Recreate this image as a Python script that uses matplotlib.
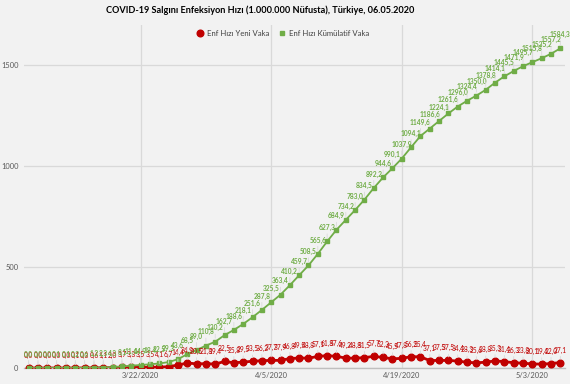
import numpy as np
import pandas as pd
import matplotlib
matplotlib.use("Agg")
import matplotlib.pyplot as plt

# ----------------------------
# 数据 (1.000.000 nüfusta)
# ----------------------------
dates = pd.date_range("2020-03-10", "2020-05-06", freq="D")

kumulatif = [0.0, 0.0, 0.0, 0.1, 0.1, 0.2, 0.6, 1.2, 2.3, 4.3, 8.1, 11.4,
             14.9, 18.4, 22.5, 29.3, 43.6, 68.5, 89.0, 110.8, 130.2, 162.7,
             188.6, 218.1, 251.6, 287.8, 325.5, 363.4, 410.2, 459.7, 508.5,
             565.6, 627.3, 684.9, 734.2, 783.0, 834.5, 892.2, 944.6, 990.1,
             1037.9, 1094.1, 1149.6, 1186.6, 1224.1, 1261.6, 1296.0, 1324.4,
             1350.0, 1378.8, 1414.1, 1445.5, 1471.9, 1495.7, 1515.8, 1535.2,
             1557.2, 1584.3]

yeni = [0.0, 0.0, 0.0, 0.0, 0.0, 0.1, 0.3, 0.6, 1.1, 2.0, 3.7, 3.3,
        3.5, 3.5, 4.1, 6.7, 14.4, 24.9, 20.5, 21.8, 19.4, 32.5,
        25.8, 29.5, 33.5, 36.2, 37.7, 37.9, 46.8, 49.5, 48.8,
        57.1, 61.8, 57.6, 49.2, 48.8, 51.5, 57.7, 52.3, 45.5,
        47.8, 56.2, 55.4, 37.1, 37.5, 37.5, 34.4, 28.3, 25.6,
        28.8, 35.3, 31.4, 26.3, 23.8, 20.1, 19.4, 22.0, 27.1]

tick_dates = pd.to_datetime(["2020-03-22", "2020-04-05", "2020-04-19", "2020-05-03"])
y_ticks = [0, 500, 1000, 1500]

title = "COVID-19 Salgını Enfeksiyon Hızı (1.000.000 Nüfusta), Türkiye, 06.05.2020"

red = "#C00000"
green = "#70AD47"
bg = "#F2F2F2"

plt.rcParams['font.family'] = ['Lato', 'DejaVu Sans']

fig = plt.figure(figsize=(5.7, 3.84), dpi=100, facecolor=bg)
ax = fig.add_axes([24/570, 16/384, (565-24)/570, (368-25)/384])
ax.set_facecolor(bg)


def fmt(v):
    return f"{v:.1f}".replace(".", ",")


ax.plot(dates, yeni, color=red, lw=2, marker="o", ms=4.8, zorder=3,
        label="Enf Hızı Yeni Vaka")
ax.plot(dates, kumulatif, color=green, lw=1.3, marker="s", ms=3.3, zorder=4,
        label="Enf Hızı Kümülatif Vaka")

# etiketler + ince bağlantı çizgileri
leader = dict(arrowstyle="-", color="#DADADA", lw=0.6, shrinkA=0, shrinkB=2.5)
for d, v in zip(dates, yeni):
    ax.annotate(fmt(v), (d, v), xytext=(0, 9), textcoords="offset points",
                ha="center", va="center", fontsize=4.8, color=red, zorder=5,
                arrowprops=leader)
for d, v in zip(dates, kumulatif):
    ax.annotate(fmt(v), (d, v), xytext=(0, 10), textcoords="offset points",
                ha="center", va="center", fontsize=4.8, color=green,
                fontweight="bold", zorder=6, arrowprops=leader,
                annotation_clip=False)

ax.set_xlim(dates[0] - pd.Timedelta(hours=12), dates[-1] + pd.Timedelta(hours=12))
ax.set_ylim(0, 1700)

ax.set_xticks(tick_dates)
ax.set_xticklabels([f"{d.month}/{d.day}/{d.year}" for d in tick_dates])
ax.set_yticks(y_ticks)
ax.tick_params(axis="both", length=0, labelsize=5.4, colors="#595959")
ax.tick_params(axis="y", pad=4)
ax.tick_params(axis="x", pad=3)

ax.grid(True, color="#D9D9D9", lw=0.9)
ax.set_axisbelow(True)
for s in ["top", "right", "left"]:
    ax.spines[s].set_visible(False)
ax.spines["bottom"].set_color("#BFBFBF")
ax.spines["bottom"].set_linewidth(1)

leg = ax.legend(loc="center", bbox_to_anchor=(0.479, 0.976), ncol=2,
                frameon=False, fontsize=5.6, handlelength=0.7, handletextpad=0.6,
                columnspacing=1.2, labelcolor="#404040")
for h in leg.legend_handles:
    h.set_linestyle("none")

fig.text(260/570, 1 - 10/384, title, ha="center", va="center", fontsize=6.6,
         fontweight="bold", color="#000000")

fig.savefig("out.png", dpi=100, facecolor=bg)
